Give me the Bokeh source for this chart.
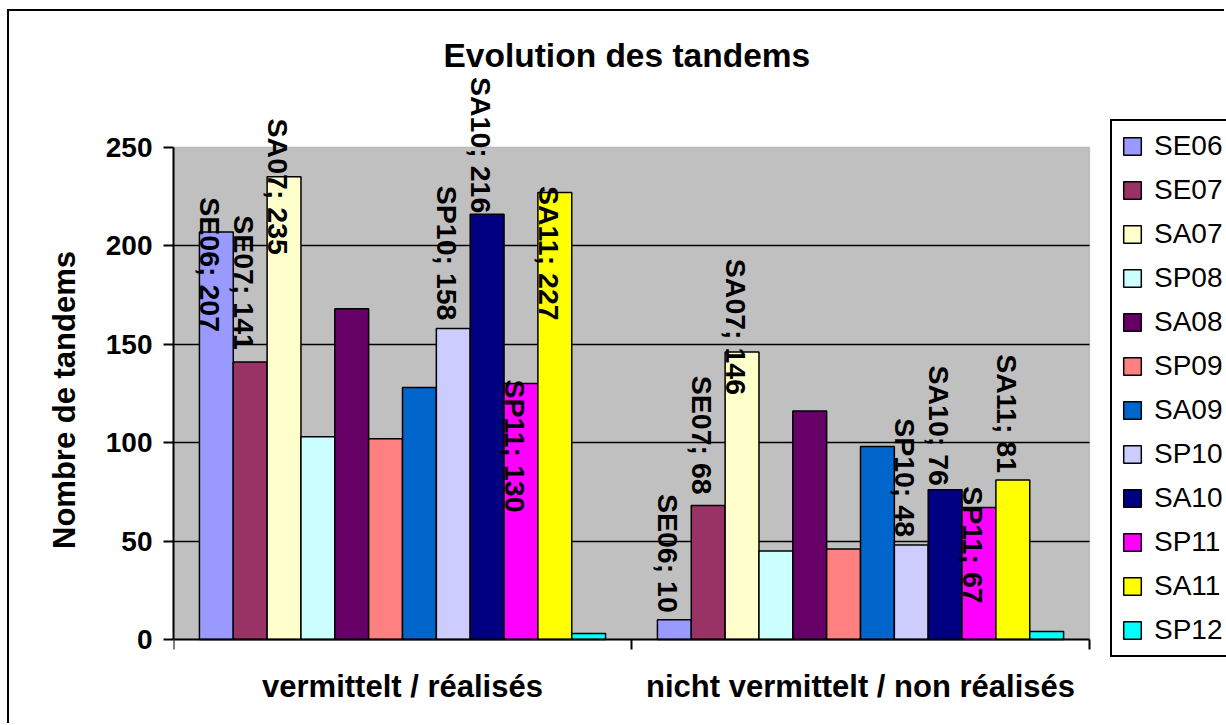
import math
from bokeh.plotting import figure
from bokeh.models import (ColumnDataSource, Range1d, FixedTicker, Legend, LegendItem,
                          BoxAnnotation)
from bokeh.transform import dodge
from bokeh.core.properties import value
from bokeh.embed import file_html
from bokeh.resources import INLINE

# ---------------- data ----------------
categories = ["vermittelt / réalisés", "nicht vermittelt / non réalisés"]
series = ["SE06", "SE07", "SA07", "SP08", "SA08", "SP09",
          "SA09", "SP10", "SA10", "SP11", "SA11", "SP12"]
realises = [207, 141, 235, 103, 168, 102, 128, 158, 216, 130, 227, 3]
non_realises = [10, 68, 146, 45, 116, 46, 98, 48, 76, 67, 81, 4]
y_ticks = [0, 50, 100, 150, 200, 250]
labelled_series = ["SE06", "SE07", "SA07", "SP10", "SA10", "SP11", "SA11"]

# ---------------- styles ----------------
colors = ["#9999FF", "#993366", "#FFFFCC", "#CCFFFF", "#660066", "#FF8080",
          "#0066CC", "#CCCCFF", "#000080", "#FF00FF", "#FFFF00", "#00FFFF"]
# pixel shift of the end of each data label relative to the bar top (positive = above)
label_shift = {
    "SE06": [-100, 7],
    "SE07": [12, 11],
    "SA07": [-78, -43],
    "SP10": [8, 8],
    "SA10": [1, 4],
    "SP11": [-129, -96],
    "SA11": [-128, 7],
}
FONT = "Liberation Sans"
BAR_W = 0.0739
# the drawing frame is larger than the grey plot area so that labels that stick
# out of it, the category labels and the legend are not clipped
X_VIEW = (0, 2.2991)
Y_VIEW = (-43.7, 287)

p = figure(width=1217, height=714,
           x_range=Range1d(*X_VIEW), y_range=Range1d(*Y_VIEW),
           output_backend="svg", toolbar_location=None,
           min_border_left=164, min_border_right=0,
           min_border_top=63, min_border_bottom=0)
p.styles = {"margin-left": "7px", "margin-top": "9px",
            "border-left": "2px solid black", "border-top": "2px solid black"}

# grey plot area (0 .. number of categories, 0 .. top tick)
area = BoxAnnotation(left=0, right=len(categories), bottom=0, top=y_ticks[-1],
                     fill_color="#C0C0C0", fill_alpha=1.0,
                     line_color="#808080", line_width=1.5, level="image")
p.add_layout(area)

src = ColumnDataSource(dict(x=[0.5, 1.5],
                            **{s: [r, n] for s, r, n in zip(series, realises, non_realises)}))

# horizontal grid lines limited to the grey plot area
grid_ticks = y_ticks[1:-1]
try:
    p.ygrid.ticker = FixedTicker(ticks=grid_ticks)
    p.ygrid.cross_bounds = (0, len(categories))
    p.ygrid.grid_line_color = "black"
    p.ygrid.grid_line_width = 1.5
except AttributeError:
    p.ygrid.visible = False
    gsrc = ColumnDataSource(dict(x0=[0] * len(grid_ticks),
                                 x1=[len(categories)] * len(grid_ticks),
                                 y=grid_ticks))
    p.segment(x0="x0", x1="x1", y0="y", y1="y", source=gsrc,
              line_color="black", line_width=1.5, level="underlay")

items = []
for i, s in enumerate(series):
    off = (i - 5.5) * BAR_W
    r = p.vbar(x=dodge("x", off, range=p.x_range), top=s, bottom=0, width=BAR_W,
               source=src, fill_color=colors[i], line_color="black", line_width=1.5)
    items.append(LegendItem(label=s, renderers=[r]))

for s in labelled_series:
    i = series.index(s)
    off = (i - 5.5) * BAR_W
    vals = [realises[i], non_realises[i]]
    lsrc = ColumnDataSource(dict(
        x=[0.5, 1.5], y=vals,
        text=[f"{s}; {v}" for v in vals],
        yoff=[-d for d in label_shift[s]],
    ))
    p.text(x=dodge("x", off, range=p.x_range), y="y", text="text", source=lsrc,
           angle=-math.pi / 2, text_align="right", text_baseline="middle",
           x_offset=-6, y_offset="yoff",
           text_font=value(FONT), text_font_style="bold", text_font_size="28.5px",
           text_color="black")

# ---------------- axes ----------------
p.background_fill_color = "white"
p.outline_line_color = None
p.border_fill_color = "white"

p.xaxis.fixed_location = 0
p.xaxis.bounds = (0, len(categories))
p.xaxis.ticker = FixedTicker(ticks=[0.5, 1.5], minor_ticks=[0, 1, 2])
p.xaxis.major_label_overrides = {0.5: categories[0], 1.5: categories[1]}
p.xaxis.major_tick_line_color = None
p.xaxis.minor_tick_line_color = "black"
p.xaxis.minor_tick_line_width = 2
p.xaxis.minor_tick_out = 10
p.xaxis.minor_tick_in = 0
p.xaxis.axis_line_width = 2
p.xaxis.major_label_standoff = 20
p.xaxis.major_label_text_font = FONT
p.xaxis.major_label_text_font_style = "bold"
p.xaxis.major_label_text_font_size = "31px"
p.xaxis.major_label_text_color = "black"
p.xgrid.visible = False

p.yaxis.ticker = FixedTicker(ticks=y_ticks)
p.yaxis.bounds = (0, y_ticks[-1])
p.yaxis.major_tick_out = 10
p.yaxis.major_tick_in = 0
p.yaxis.major_tick_line_width = 2
p.yaxis.minor_tick_line_color = None
p.yaxis.axis_line_width = 2
p.yaxis.major_label_standoff = 11
p.yaxis.major_label_text_font = FONT
p.yaxis.major_label_text_font_style = "bold"
p.yaxis.major_label_text_font_size = "28px"
p.yaxis.major_label_text_color = "black"
p.yaxis.axis_label = "Nombre de tandems"
p.yaxis.axis_label_text_font = FONT
p.yaxis.axis_label_text_font_style = "bold"
p.yaxis.axis_label_text_font_size = "31px"
p.yaxis.axis_label_text_color = "black"
p.yaxis.axis_label_standoff = 21

p.title.text = "Evolution des tandems"
p.title.align = "left"
p.title.offset = 270
p.title.text_font = FONT
p.title.text_font_style = "bold"
p.title.text_font_size = "33.5px"
p.title.text_color = "black"
p.title.standoff = 1

legend = Legend(items=items, location=(937, 68), margin=0, padding=9, spacing=12,
                glyph_width=22, glyph_height=22, label_standoff=11,
                label_width=78, label_height=32,
                label_text_font=FONT, label_text_font_size="28px",
                label_text_color="black",
                border_line_color="black", border_line_width=2, border_line_alpha=1.0,
                background_fill_color="white", background_fill_alpha=1.0)
p.add_layout(legend)

open("out.html", "w").write(file_html(p, INLINE))
